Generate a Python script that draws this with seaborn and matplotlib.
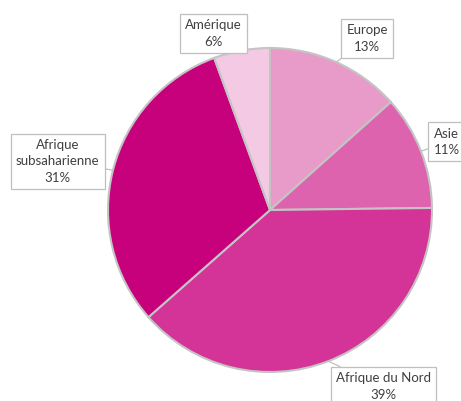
import matplotlib
matplotlib.use("Agg")
import matplotlib.pyplot as plt
import seaborn as sns
import numpy as np

# données (parts, étiquettes arrondies)
regions = ["Europe", "Asie", "Afrique du Nord", "Afrique\nsubsaharienne", "Amérique"]
parts = [13.4, 11.4, 38.7, 30.9, 5.6]
couleurs = ["#E89AC8", "#DE63AE", "#D43397", "#C7007B", "#F3C9E3"]

# positions des étiquettes (coordonnées du camembert, rayon = 1)
pos_labels = [(0.60, 1.06), (1.09, 0.42), (0.70, -1.09), (-1.31, 0.30), (-0.35, 1.09)]

sns.set_theme(style="white")
plt.rcParams["font.family"] = ["Lato", "DejaVu Sans"]

fig = plt.figure(figsize=(4.61, 4.01), dpi=100)
ax = fig.add_axes([108 / 461, 29 / 401, 324 / 461, 324 / 401])

wedges, _ = ax.pie(parts, colors=couleurs, startangle=90, counterclock=False,
                   wedgeprops=dict(edgecolor="#C4C4C4", linewidth=1.5))
ax.set_aspect("equal")

for w, nom, p, (tx, ty) in zip(wedges, regions, parts, pos_labels):
    ang = np.deg2rad((w.theta1 + w.theta2) / 2)
    x, y = np.cos(ang), np.sin(ang)
    ax.annotate(f"{nom}\n{round(p)}%", xy=(x, y), xytext=(tx, ty),
                ha="center", va="center", fontsize=9.5, color="#404040",
                linespacing=1.45,
                bbox=dict(boxstyle="square,pad=0.4", fc="white", ec="#BFBFBF", lw=0.9),
                arrowprops=dict(arrowstyle="-", color="#BFBFBF", lw=0.9,
                                shrinkA=0, shrinkB=0),
                annotation_clip=False)

ax.set_xlim(-1, 1)
ax.set_ylim(-1, 1)
fig.savefig("out.png", dpi=100)
